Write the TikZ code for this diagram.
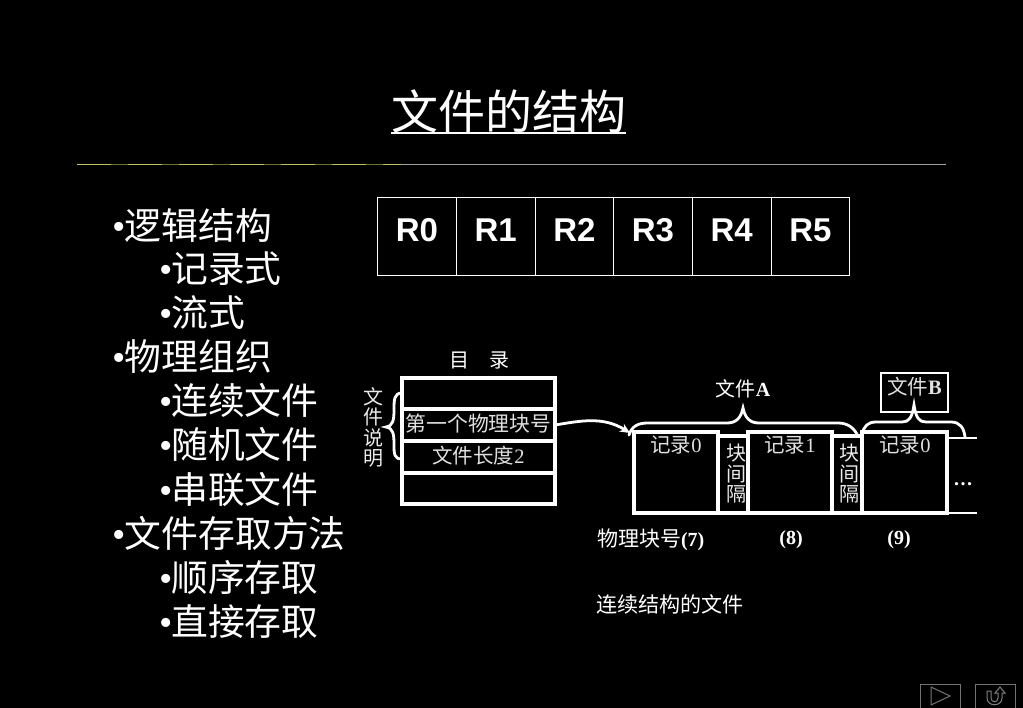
\documentclass[tikz,border=0pt]{standalone}
\usepackage{fontspec}
\setmainfont{Liberation Serif}
\newfontfamily\cjk{Noto Sans CJK SC}
\newfontfamily\lat{Liberation Serif}
\newfontfamily\arial{Liberation Sans}
\usetikzlibrary{arrows.meta}
\newcommand{\fs}[1]{\fontsize{#1}{#1}\selectfont}
\newcommand{\B}[1]{{\lat\bfseries #1}}
\newcommand{\Bu}{{\lat\fontsize{38}{38}\selectfont •\hspace{-1pt}}}
\newcommand{\Rt}[1]{\raisebox{12pt}{#1}}
\tikzset{
  txt/.style={inner sep=0pt,outer sep=0pt,text=white,font=\cjk},
  big/.style={txt,anchor=west,font=\cjk\fs{36.8},text height=32pt,text depth=4pt},
  small/.style={txt,font=\cjk\fs{20}},
  smallg/.style={txt,text=white!88!black,font=\cjk\fs{20.5}},
  vert/.style={txt,text=white!92!black,align=center,font=\cjk\fontsize{20}{20.5}\selectfont},
  rcell/.style={draw=white,line width=0.9pt,minimum width=78.7pt,minimum height=78pt,inner sep=0pt,outer sep=0pt,text=white,font=\arial\bfseries\fs{33}},
  dcell/.style={draw=white,line width=3.2pt,minimum width=153pt,inner sep=0pt,outer sep=0pt},
  blk/.style={draw=white,line width=3.4pt,inner sep=0pt,outer sep=0pt,anchor=south west},
  thick/.style={draw=white,line width=2.8pt,line cap=round},
  nav/.style={draw=white!45!black,line width=0.9pt,inner sep=0pt,minimum width=40pt,minimum height=24pt,outer sep=0pt},
}
\begin{document}
\begin{tikzpicture}[x=1pt,y=-1pt]
\fill[black] (0,0) rectangle (1023,708);
\useasboundingbox (0,0) rectangle (1023,708);
% title
\node[txt,font=\cjk\fs{47}] (title) at (508.5,112) {文件的结构};
\coordinate (ula) at (391,133); \coordinate (ulb) at (626,133);
\draw[white,line width=2pt] (ula) -- (ulb);
% rule
\coordinate (rulea) at (77,164.5); \coordinate (ruleb) at (946,164.5); \coordinate (rulec) at (401,164.5);
\draw[white!62!black,line width=1pt] (rulea) -- (ruleb);
\draw[color={rgb,255:red,190;green,195;blue,95},line width=1.2pt,dash pattern=on 34pt off 17pt] (rulea) -- (rulec);
\draw[color={rgb,255:red,110;green,115;blue,50},line width=1.2pt,dash pattern=on 17pt off 34pt,dash phase=17pt] (rulea) -- (rulec);
% bullets
\node[big] (b1) at (112.5,226) {\Bu 逻辑结构};
\node[big] (b2) at (159,269) {\Bu 记录式};
\node[big] (b3) at (159,313) {\Bu 流式};
\node[big] (b4) at (112.5,357) {\Bu 物理组织};
\node[big] (b5) at (159,401) {\Bu 连续文件};
\node[big] (b6) at (159,445) {\Bu 随机文件};
\node[big] (b7) at (159,489) {\Bu 串联文件};
\node[big] (b8) at (112.5,533) {\Bu 文件存取方法};
\node[big] (b9) at (159,577) {\Bu 顺序存取};
\node[big] (b10) at (159,621) {\Bu 直接存取};
% R table
\node[rcell] (r0) at (417,236) {\Rt{R0}};
\node[rcell] (r1) at (495.7,236) {\Rt{R1}};
\node[rcell] (r2) at (574.4,236) {\Rt{R2}};
\node[rcell] (r3) at (653,236) {\Rt{R3}};
\node[rcell] (r4) at (731.7,236) {\Rt{R4}};
\node[rcell] (r5) at (810.4,236) {\Rt{R5}};
% directory
\node[small] (mulu) at (479.5,360) {目\hspace{20pt}录};
\node[dcell,minimum height=31pt] (d0) at (478.5,393.5) {};
\node[dcell,minimum height=32pt] (d1) at (478.5,425) {};
\node[dcell,minimum height=32pt] (d2) at (478.5,457) {};
\node[dcell,minimum height=31pt] (d3) at (478.5,488.5) {};
\node[smallg,font=\cjk\fs{20.8}] (d1t) at (478.5,424) {第一个物理块号};
\node[smallg] (d2t) at (478.5,456) {文件长度\lat 2};
\node[vert] (shuoming) at (373,427.5) {文\\件\\说\\明};
\coordinate (bl1) at (402,393); \coordinate (bl2) at (386,427); \coordinate (bl3) at (402,459);
\draw[thick] (bl1) .. controls (394,393) and (394,400) .. (394,410) .. controls (394,420) and (393,426) .. (bl2)
  .. controls (393,428) and (394,434) .. (394,444) .. controls (394,454) and (394,459) .. (bl3);
% blocks
\node[blk,minimum width=84pt,minimum height=81pt] (rec0) at (634,513) {};
\node[blk,minimum width=30pt,minimum height=77pt] (gap0) at (718,513) {};
\node[blk,minimum width=84pt,minimum height=81pt] (rec1) at (748,513) {};
\node[blk,minimum width=30pt,minimum height=77pt] (gap1) at (832,513) {};
\node[blk,minimum width=85pt,minimum height=81pt] (rec2) at (862,513) {};
\coordinate (ta) at (977,438); \coordinate (tb) at (977,513);
\draw[white,line width=2.4pt] (rec2.east |- ta) -- (ta);
\draw[white,line width=2.4pt] (rec2.south east) -- (tb);
\node[smallg] (rt0) at (676,445) {记录\lat 0};
\node[smallg] (rt1) at (790,445) {记录\lat 1};
\node[smallg] (rt2) at (905,445) {记录\lat 0};
\node[vert] (g0t) at (736,474) {块\\间\\隔};
\node[vert] (g1t) at (849,474) {块\\间\\隔};
\node[txt,font=\lat\bfseries\fs{20}] (dots) at (963,484) {.\hspace{1.5pt}.\hspace{1.5pt}.};
% arrow
\coordinate (arrowend) at (630,433);
\draw[white,line width=2.8pt,-{Stealth[length=10pt,width=9pt]}] (d1.east) .. controls (580,421) and (603,416) .. (arrowend);
% file labels
\node[small] (fa) at (743,389) {文件\B{A}};
\node[draw=white,line width=2.8pt,minimum width=67pt,minimum height=39pt,inner sep=0pt,outer sep=0pt] (fbbox) at (914.5,392.5) {};
\node[smallg] (fb) at (914.5,387) {文件\B{B}};
% brace A
\coordinate (aa) at (629,435); \coordinate (atip) at (743,408); \coordinate (ab) at (858,436);
\draw[thick] (aa) .. controls (632,426) and (638,423) .. (648,423) -- (727,423)
  .. controls (736,423) and (741,418) .. (atip) .. controls (745,418) and (750,423) .. (759,423)
  -- (838,423) .. controls (848,423) and (854,428) .. (ab);
% brace B
\coordinate (ba) at (862,434); \coordinate (btip) at (914,405); \coordinate (bb) at (965,437);
\draw[thick] (ba) .. controls (864,426) and (868,422) .. (876,422) -- (902,422)
  .. controls (909,422) and (912,418) .. (btip) .. controls (916,418) and (919,422) .. (926,422)
  -- (951,422) .. controls (960,422) and (964,428) .. (bb);
% bottom texts
\node[small,anchor=west,font=\cjk\fs{21}] (pn7) at (597,540) {物理块号{\lat\bfseries\fs{20}(7)}};
\node[small] (pn8) at (791,540) {\B{(8)}};
\node[small] (pn9) at (899,540) {\B{(9)}};
\node[small,anchor=west,font=\cjk\fs{21.1}] (cap) at (596,604) {连续结构的文件};
% nav buttons
\node[nav] (nav1) at (940,696) {};
\node[nav] (nav2) at (995,696) {};
\draw[white!45!black,line width=1pt] (931,687) -- (950,696) -- (931,705) -- cycle;
\draw[white!50!black,line width=1pt] (987,691) -- (987,698) .. controls (987,707) and (1002,707) .. (1002,698) -- (1002,693) -- (1005,693) -- (1000,687) -- (995,693) -- (998,693) -- (998,698) .. controls (998,703) and (991,703) .. (991,698) -- (991,691) -- cycle;
\end{tikzpicture}
\end{document}
